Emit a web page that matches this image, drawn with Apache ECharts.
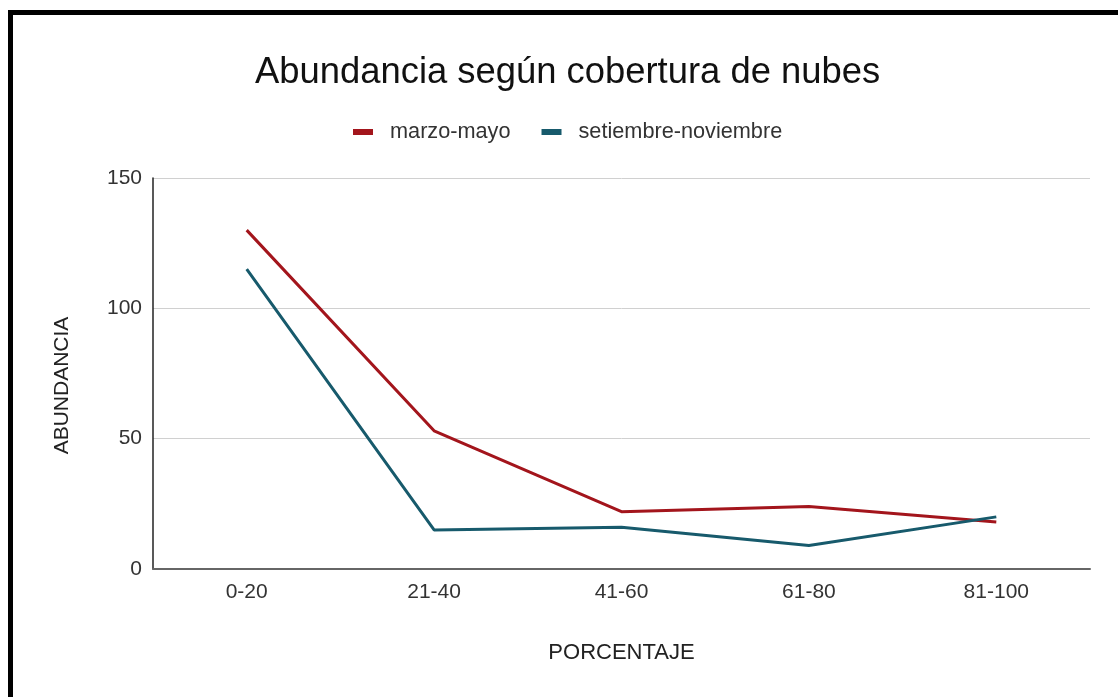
<!DOCTYPE html>
<html>
<head>
<meta charset="utf-8">
<script src="https://cdn.jsdelivr.net/npm/echarts@6/dist/echarts.min.js"></script>
<style>
  html, body { margin: 0; padding: 0; background: #fff; }
  #chart { width: 1118px; height: 697px; }
</style>
</head>
<body>
<div id="chart"></div>
<script>
const categories = ['0-20', '21-40', '41-60', '61-80', '81-100']
const marzoMayo = [130, 53, 22, 24, 18]
const setiembreNoviembre = [115, 15, 16, 9, 20]
const yTicks = { min: 0, max: 150, interval: 50 }

const font = 'Liberation Sans, Arial, sans-serif'
const chart = echarts.init(document.getElementById('chart'))

chart.setOption({
  animation: false,
  backgroundColor: '#fff',
  title: {
    text: 'Abundancia según cobertura de nubes',
    left: 250,
    top: 50,
    textStyle: { fontFamily: font, fontSize: 36.4, fontWeight: 'normal', color: '#111' }
  },
  legend: {
    top: 116,
    left: 348,
    icon: 'rect',
    itemWidth: 20,
    itemHeight: 6,
    itemGap: 31,
    textStyle: { fontFamily: font, fontSize: 21.7, color: '#333', padding: [0, 0, 0, 12] },
    data: ['marzo-mayo', 'setiembre-noviembre']
  },
  grid: { left: 153, right: 28, top: 178, bottom: 128 },
  xAxis: {
    type: 'category',
    data: categories,
    name: 'PORCENTAJE',
    nameLocation: 'middle',
    nameGap: 73,
    nameTextStyle: { fontFamily: font, fontSize: 22, color: '#222' },
    axisLine: { lineStyle: { color: '#666', width: 2 } },
    axisTick: { show: false },
    axisLabel: { fontFamily: font, fontSize: 21, color: '#333', margin: 13 }
  },
  yAxis: {
    type: 'value',
    min: yTicks.min,
    max: yTicks.max,
    interval: yTicks.interval,
    name: 'ABUNDANCIA',
    nameLocation: 'middle',
    nameGap: 80,
    nameTextStyle: { fontFamily: font, fontSize: 21, color: '#222', padding: [0, 0, 0, -24] },
    axisLine: { show: true, lineStyle: { color: '#222', width: 1.5 } },
    axisTick: { show: false },
    axisLabel: { fontFamily: font, fontSize: 21, color: '#333', margin: 11 },
    splitLine: { lineStyle: { color: '#d0d0d0', width: 1 } }
  },
  series: [
    {
      name: 'marzo-mayo',
      type: 'line',
      data: marzoMayo,
      showSymbol: false,
      symbol: 'none',
      color: '#a3151c',
      lineStyle: { width: 3 }
    },
    {
      name: 'setiembre-noviembre',
      type: 'line',
      data: setiembreNoviembre,
      showSymbol: false,
      symbol: 'none',
      color: '#175a6c',
      lineStyle: { width: 3 }
    }
  ],
  graphic: [
    { type: 'rect', shape: { x: 8, y: 10, width: 1110, height: 5 }, style: { fill: '#000' } },
    { type: 'rect', shape: { x: 8, y: 10, width: 5, height: 687 }, style: { fill: '#000' } }
  ]
})
</script>
</body>
</html>
